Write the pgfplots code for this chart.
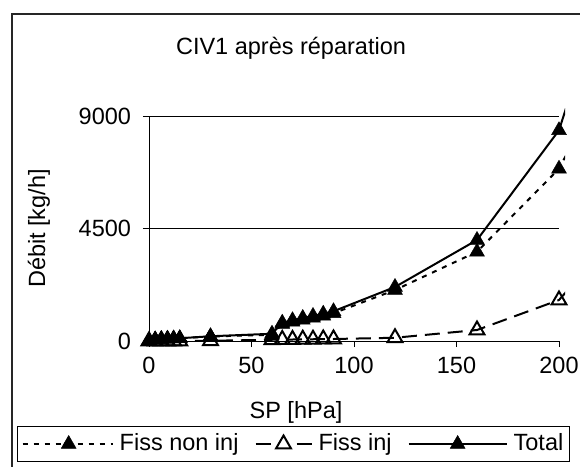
\documentclass[border=0pt]{standalone}
\usepackage{fontspec}
\setmainfont{Liberation Sans}
\usepackage{pgfplots}
\usepackage{pgfplotstable}
\pgfplotsset{compat=1.18}

\pgfplotsset{
  legA/.style={legend image code/.code={
    \draw[##1, mark=none] (0pt,0pt) -- (90pt,0pt);
    \draw[##1, only marks] plot coordinates {(46pt,0pt)};
  }},
  legB/.style={legend image code/.code={
    \draw[##1, mark=none, dash pattern=on 15pt off 26pt] (0pt,0pt) -- (56pt,0pt);
    \draw[##1, only marks] plot coordinates {(28pt,0pt)};
  }},
  legC/.style={legend image code/.code={
    \draw[##1, mark=none] (0pt,0pt) -- (98pt,0pt);
    \draw[##1, only marks] plot coordinates {(49pt,0pt)};
  }},
}

\pgfplotstableread{
x    tot    non   inj
0    20     20    0
3    60     60    0
6    80     80    0
9    90     90    0
12   100    100   0
15   110    110   0
30   190    180   10
60   290    250   50
65   730    680   60
70   830    770   60
75   920    850   70
80   1000   930   70
85   1090   1010  80
90   1190   1110  80
120  2160   2040  130
160  4040   3570  440
200  8430   6890  1640
210  11000  8460  2570
}\datatable

\begin{document}
\fontsize{23.5}{28}\selectfont
\begin{tikzpicture}
\begin{axis}[
  at={(149pt,-341pt)}, anchor=south west,
  scale only axis, width=416.15pt, height=232.5pt,
  xmin=0, xmax=203, ymin=0, ymax=9300,
  axis line style={draw=none},
  xtick={0,50,100,150,200}, ytick={0,4500,9000},
  xtick pos=lower, ytick pos=left, tick align=outside,
  major tick length=6pt,
  every tick/.style={black, line width=1pt},
  /pgf/number format/1000 sep={},
  /pgf/number format/assume math mode=true,
  ticklabel style={font=\fontsize{23.5}{28}\selectfont},
  xticklabel style={yshift=-2pt},
  yticklabel style={xshift=-4pt},
  legend columns=3,
  legend style={at={(0.3472,-0.443)}, anchor=center, draw=black, line width=1pt,
    font=\fontsize{23.5}{28}\selectfont, inner xsep=4pt, inner ysep=5pt,
    /tikz/every odd column/.append style={column sep=4pt},
    /tikz/every even column/.append style={column sep=14pt}},
]
\coordinate (O) at (axis cs:0,0);
\coordinate (XE) at (axis cs:200,0);
\coordinate (YM) at (axis cs:0,4500);
\coordinate (YT) at (axis cs:0,9000);
\coordinate (XM) at (axis cs:200,4500);
\coordinate (XT) at (axis cs:200,9000);
\addplot[black, line width=2pt, dash pattern=on 5pt off 6pt, mark=triangle*,
  mark size=8.5pt, mark options={solid, fill=black, line width=0.5pt}, legA]
  table[x=x, y=non] {\datatable};
\addlegendentry{Fiss non inj}
\addplot[black, line width=2pt, dash pattern=on 15pt off 8pt, mark=triangle,
  mark size=8.5pt, mark options={solid, fill=white, line width=2pt}, legB]
  table[x=x, y=inj] {\datatable};
\addlegendentry{Fiss inj}
\addplot[black, line width=2pt, mark=triangle*,
  mark size=8.5pt, mark options={solid, fill=black, line width=0.5pt}, legC]
  table[x=x, y=tot] {\datatable};
\addlegendentry{Total}
\end{axis}
\draw[line width=1pt] (O) -- (XE);
\draw[line width=1pt] (O) -- (YT);
\draw[line width=1pt] (YM) -- (XM);
\draw[line width=1pt] (YT) -- (XT);
\node[anchor=base] at (291pt,-54.5pt) {CIV1 après réparation};
\node[rotate=90, anchor=base] at (45pt,-228.5pt) {Débit [kg/h]};
\node[anchor=base] at (296pt,-418pt) {SP [hPa]};
\draw[line width=1.2pt, black!85] (12pt,-480pt) -- (12pt,-14pt) -- (595pt,-14pt);
\pgfresetboundingbox
\useasboundingbox (0pt,0pt) rectangle (580pt,-466pt);
\end{tikzpicture}
\end{document}
